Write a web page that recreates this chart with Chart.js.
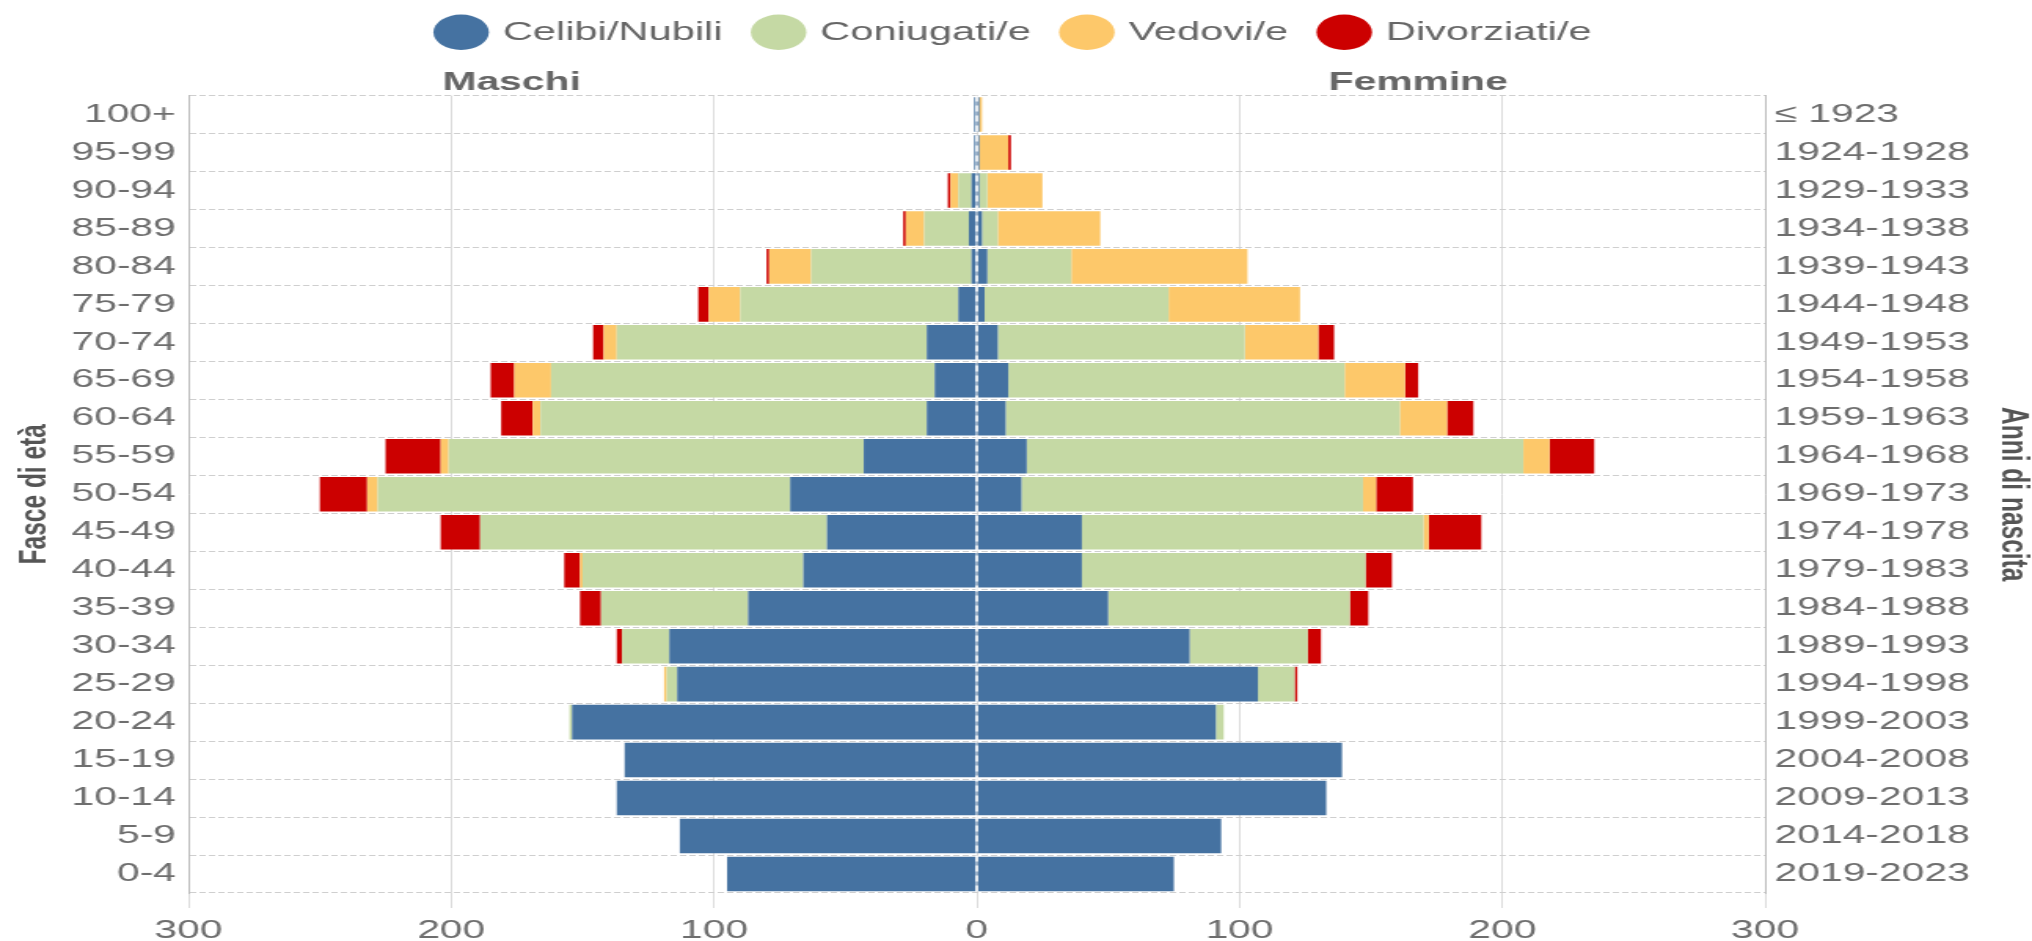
<!DOCTYPE html>
<html>
<head>
<meta charset="utf-8">
<title>Piramide delle età</title>
<script src="https://cdn.jsdelivr.net/npm/chart.js@4.4.0/dist/chart.umd.min.js"></script>
<style>
  html, body { margin: 0; padding: 0; background: #fff; overflow: hidden; }
</style>
</head>
<body>
<!-- drawn narrower, then stretched to the page width like the original picture -->
<canvas id="piramide" width="1294" height="941" style="width:2032px;height:941px;"></canvas>
<script>
const fasceEta = ['100+', '95-99', '90-94', '85-89', '80-84', '75-79', '70-74', '65-69', '60-64', '55-59',
  '50-54', '45-49', '40-44', '35-39', '30-34', '25-29', '20-24', '15-19', '10-14', '5-9', '0-4'];
const anniNascita = ['≤ 1923', '1924-1928', '1929-1933', '1934-1938', '1939-1943', '1944-1948', '1949-1953',
  '1954-1958', '1959-1963', '1964-1968', '1969-1973', '1974-1978', '1979-1983', '1984-1988', '1989-1993',
  '1994-1998', '1999-2003', '2004-2008', '2009-2013', '2014-2018', '2019-2023'];

// maschi
const maschiCelibi     = [1, 1, 2, 3, 2, 7, 19, 16, 19, 43, 71, 57, 66, 87, 117, 114, 154, 134, 137, 113, 95];
const maschiConiugati  = [0, 0, 5, 17, 61, 83, 118, 146, 147, 158, 157, 132, 84, 56, 18, 4, 1, 0, 0, 0, 0];
const maschiVedovi     = [0, 0, 3, 7, 16, 12, 5, 14, 3, 3, 4, 0, 1, 0, 0, 1, 0, 0, 0, 0, 0];
const maschiDivorziati = [0, 0, 1, 1, 1, 4, 4, 9, 12, 21, 18, 15, 6, 8, 2, 0, 0, 0, 0, 0, 0];

// femmine
const femmineNubili     = [1, 1, 1, 2, 4, 3, 8, 12, 11, 19, 17, 40, 40, 50, 81, 107, 91, 139, 133, 93, 75];
const femmineConiugate  = [0, 0, 3, 6, 32, 70, 94, 128, 150, 189, 130, 130, 108, 92, 45, 14, 3, 0, 0, 0, 0];
const femmineVedove     = [1, 11, 21, 39, 67, 50, 28, 23, 18, 10, 5, 2, 0, 0, 0, 0, 0, 0, 0, 0, 0];
const femmineDivorziate = [0, 1, 0, 0, 0, 0, 6, 5, 10, 17, 14, 20, 10, 7, 5, 1, 0, 0, 0, 0, 0];

const stati = ['Celibi/Nubili', 'Coniugati/e', 'Vedovi/e', 'Divorziati/e'];
const colori = ['#4572a1', '#c5d9a4', '#fdc86a', '#cc0000'];

const FONT = '"Liberation Sans", Arial, Helvetica, sans-serif';
Chart.defaults.font.family = FONT;
Chart.defaults.font.size = 26;
Chart.defaults.color = '#6e6e6e';

const maschi = [maschiCelibi, maschiConiugati, maschiVedovi, maschiDivorziati];
const femmine = [femmineNubili, femmineConiugate, femmineVedove, femmineDivorziate];

const datasets = [];
maschi.forEach((serie, i) => {
  datasets.push({ label: stati[i], data: serie.map(v => -v), backgroundColor: colori[i], stack: 'pop' });
});
femmine.forEach((serie, i) => {
  datasets.push({ label: stati[i], data: serie.slice(), backgroundColor: colori[i], stack: 'pop' });
});

// more room under the legend for the Maschi / Femmine headings
const spazioLegenda = {
  id: 'spazioLegenda',
  beforeInit(chart) {
    const fit = chart.legend.fit;
    chart.legend.fit = function () {
      fit.call(this);
      this.height += 40;
    };
  }
};

// white dashed line at zero, over the bars
const lineaZero = {
  id: 'lineaZero',
  afterDatasetsDraw(chart) {
    const { ctx, chartArea, scales } = chart;
    const x = scales.x.getPixelForValue(0);
    ctx.save();
    ctx.strokeStyle = '#ffffff';
    ctx.lineWidth = 1.5;
    ctx.setLineDash([6, 4]);
    ctx.beginPath();
    ctx.moveTo(x, chartArea.top);
    ctx.lineTo(x, chartArea.bottom);
    ctx.stroke();
    ctx.restore();
  }
};

const titoliSesso = {
  id: 'titoliSesso',
  afterDraw(chart) {
    const { ctx, chartArea, scales } = chart;
    ctx.save();
    ctx.font = 'bold 26px ' + FONT;
    ctx.fillStyle = '#666666';
    ctx.textAlign = 'center';
    ctx.textBaseline = 'alphabetic';
    ctx.fillText('Maschi', scales.x.getPixelForValue(-177), chartArea.top - 6);
    ctx.fillText('Femmine', scales.x.getPixelForValue(168), chartArea.top - 6);
    ctx.restore();
  }
};

new Chart(document.getElementById('piramide'), {
  type: 'bar',
  data: { labels: fasceEta, datasets: datasets },
  options: {
    indexAxis: 'y',
    responsive: false,
    animation: false,
    devicePixelRatio: 1,
    barPercentage: 0.91,
    categoryPercentage: 1.0,
    layout: { padding: { top: -3.5, left: 0, right: 0, bottom: 0 } },
    plugins: {
      legend: {
        position: 'top',
        labels: {
          usePointStyle: true,
          pointStyle: 'circle',
          boxHeight: 25,
          padding: 22.5,
          color: '#666666',
          font: { size: 26.5 },
          filter: item => item.datasetIndex < 4
        }
      },
      tooltip: { enabled: false }
    },
    scales: {
      x: {
        type: 'linear',
        stacked: true,
        min: -300,
        max: 300,
        ticks: {
          stepSize: 100,
          padding: 7,
          callback: v => Math.abs(v)
        },
        grid: { color: '#dcdcdc', tickColor: '#dcdcdc', tickLength: 15, lineWidth: 1 },
        border: { display: false },
        afterFit(scale) { scale.height = 48; }
      },
      y: {
        stacked: true,
        position: 'left',
        ticks: { padding: 8, autoSkip: false },
        grid: { color: '#cfcfcf', drawTicks: false, offset: true },
        border: { display: true, color: '#bdbdbd', dash: [4, 2] },
        title: {
          display: true,
          text: 'Fasce di età',
          color: '#555555',
          font: { size: 24.5, weight: 'bold', lineHeight: 1 },
          padding: { top: 10, bottom: 0 }
        },
        afterFit(scale) { scale.width = 120; }
      },
      y2: {
        type: 'category',
        labels: anniNascita,
        position: 'right',
        offset: true,
        ticks: { padding: 6, autoSkip: false },
        grid: { display: false, drawTicks: false },
        border: { display: true, color: '#bdbdbd' },
        title: {
          display: true,
          text: 'Anni di nascita',
          color: '#555555',
          font: { size: 24.5, weight: 'bold', lineHeight: 1 },
          padding: { top: 0, bottom: 0 }
        },
        afterFit(scale) { scale.width = 170; }
      }
    }
  },
  plugins: [spazioLegenda, lineaZero, titoliSesso]
});
</script>
</body>
</html>
